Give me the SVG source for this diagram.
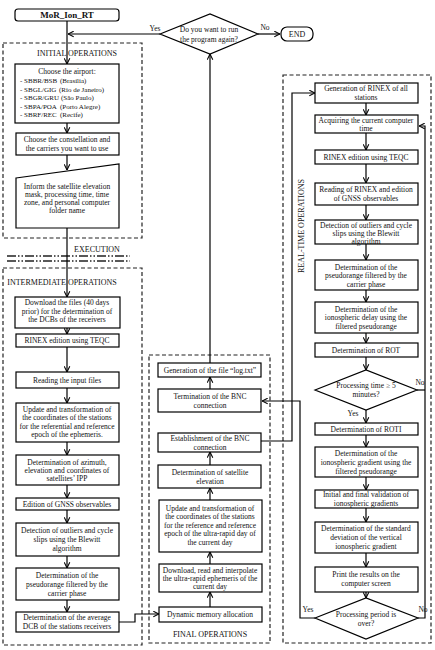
<svg xmlns="http://www.w3.org/2000/svg" width="435" height="650" viewBox="0 0 435 650">
<style>
.box{fill:#fff;stroke:#000;stroke-width:1.2}
.sec{fill:none;stroke:#222;stroke-width:1.2;stroke-dasharray:4 2.5}
.conn{fill:none;stroke:#000;stroke-width:1.2}
text{font-family:"Liberation Serif","Times New Roman",serif;font-size:7.5px;fill:#111;text-anchor:middle}
.l{text-anchor:start;font-size:7px}
.t{font-size:8px}
.b{font-weight:bold;font-size:9px}
</style>
<defs>
<marker id="ar" viewBox="0 0 8 8" refX="7.5" refY="4" markerWidth="7" markerHeight="7" markerUnits="userSpaceOnUse" orient="auto">
<path d="M1,0.8 L7.5,4 L1,7.2" fill="none" stroke="#000" stroke-width="1.2"/>
</marker>
</defs>
<rect width="435" height="650" fill="#fff"/>

<g id="sections">
<rect class="sec" x="3" y="43" width="139" height="195"/>
<rect class="sec" x="3" y="268" width="139" height="377"/>
<rect class="sec" x="149" y="355" width="121" height="288"/>
<rect class="sec" x="283" y="75" width="148" height="568"/>
<text class="t" x="77" y="56">INITIAL  OPERATIONS</text>
<text class="t" x="97" y="252">EXECUTION</text>
<line x1="7" y1="256" x2="130" y2="256" stroke="#222" stroke-width="1.3" stroke-dasharray="9 2 1.5 2 1.5 2"/>
<line x1="7" y1="261" x2="130" y2="261" stroke="#222" stroke-width="1.3" stroke-dasharray="9 2 1.5 2 1.5 2"/>
<text class="t" x="62" y="285">INTERMEDIATE  OPERATIONS</text>
<text class="t" x="210" y="637">FINAL OPERATIONS</text>
<text class="t" transform="translate(304,226) rotate(-90)">REAL-TIME OPERATIONS</text>
</g>

<g id="connectors">
<path class="conn" d="M67,21 V64" marker-end="url(#ar)"/>
<path class="conn" d="M160,34 H68" marker-end="url(#ar)"/>
<path class="conn" d="M258,34 H280" marker-end="url(#ar)"/>
<path class="conn" d="M67,123 V133" marker-end="url(#ar)"/>
<path class="conn" d="M67,155 V170" marker-end="url(#ar)"/>
<path class="conn" d="M67,228 V297" marker-end="url(#ar)"/>
<path class="conn" d="M67,328 V334" marker-end="url(#ar)"/>
<path class="conn" d="M67,347 V372" marker-end="url(#ar)"/>
<path class="conn" d="M67,388 V403" marker-end="url(#ar)"/>
<path class="conn" d="M67,442 V455" marker-end="url(#ar)"/>
<path class="conn" d="M67,485 V498" marker-end="url(#ar)"/>
<path class="conn" d="M67,510 V523" marker-end="url(#ar)"/>
<path class="conn" d="M67,556 V568" marker-end="url(#ar)"/>
<path class="conn" d="M67,600 V612" marker-end="url(#ar)"/>
<path class="conn" d="M119,622 H135 V614 H159" marker-end="url(#ar)"/>
<path class="conn" d="M210,607 V592" marker-end="url(#ar)"/>
<path class="conn" d="M210,564 V552" marker-end="url(#ar)"/>
<path class="conn" d="M210,500 V488" marker-end="url(#ar)"/>
<path class="conn" d="M210,465 V452" marker-end="url(#ar)"/>
<path class="conn" d="M210,389 V377" marker-end="url(#ar)"/>
<path class="conn" d="M210,363 V54" marker-end="url(#ar)"/>
<path class="conn" d="M261,441 H292 V93 H315" marker-end="url(#ar)"/>
<path class="conn" d="M315,618 H300 V401 H262" marker-end="url(#ar)"/>
<path class="conn" d="M418,618 H425 V126 H419" marker-end="url(#ar)"/>
<path class="conn" d="M417,390 H425"/>
<path class="conn" d="M366,103 V115" marker-end="url(#ar)"/>
<path class="conn" d="M366,133 V150" marker-end="url(#ar)"/>
<path class="conn" d="M366,164 V183" marker-end="url(#ar)"/>
<path class="conn" d="M366,205 V220" marker-end="url(#ar)"/>
<path class="conn" d="M366,244 V260" marker-end="url(#ar)"/>
<path class="conn" d="M366,290 V302" marker-end="url(#ar)"/>
<path class="conn" d="M366,333 V343" marker-end="url(#ar)"/>
<path class="conn" d="M366,357 V370" marker-end="url(#ar)"/>
<path class="conn" d="M366,410 V423" marker-end="url(#ar)"/>
<path class="conn" d="M366,435 V447" marker-end="url(#ar)"/>
<path class="conn" d="M366,477 V490" marker-end="url(#ar)"/>
<path class="conn" d="M366,508 V522" marker-end="url(#ar)"/>
<path class="conn" d="M366,553 V567" marker-end="url(#ar)"/>
<path class="conn" d="M366,592 V598" marker-end="url(#ar)"/>
<text x="155" y="31">Yes</text>
<text x="265" y="30">No</text>
<text x="420" y="385">No</text>
<text x="353" y="416">Yes</text>
<text x="308" y="612">Yes</text>
<text x="423" y="612">No</text>
</g>

<g id="start">
<rect class="box" x="15" y="9" width="104" height="12" rx="3"/>
<text class="b" x="67" y="18.2">MoR_Ion_RT</text>
</g>
<g id="again">
<polygon class="box" points="160,34 210,14 258,34 210,54"/>
<text x="209" y="32">Do you want to run</text>
<text x="209" y="42">the program again?</text>
</g>
<g id="end">
<rect class="box" x="281" y="27" width="32" height="14" rx="6"/>
<text class="t" x="297" y="37">END</text>
</g>

<g id="airport">
<rect class="box" x="15" y="64" width="104" height="59"/>
<text x="67" y="74">Choose the airport:</text>
<text class="l" x="20" y="83">- SBBR/BSB<tspan x="60">(Brasília)</tspan></text>
<text class="l" x="20" y="91.5">- SBGL/GIG<tspan x="59">(Rio de Janeiro)</tspan></text>
<text class="l" x="20" y="100">- SBGR/GRU<tspan x="61">(São Paulo)</tspan></text>
<text class="l" x="20" y="108.5">- SBPA/POA<tspan x="60">(Porto Alegre)</tspan></text>
<text class="l" x="20" y="117">- SBRF/REC<tspan x="60">(Recife)</tspan></text>
</g>
<g id="constellation">
<rect class="box" x="16" y="133" width="103" height="22"/>
<text x="67" y="141.5">Choose the constellation  and</text>
<text x="67" y="150.5">the carriers you want to use</text>
</g>
<g id="inform">
<polygon class="box" points="16,178 119,164 119,228 16,228"/>
<text x="67" y="188.5">Inform the satellite  elevation</text>
<text x="67" y="196.5">mask, processing time, time</text>
<text x="67" y="204.5">zone, and personal computer</text>
<text x="67" y="212.5">folder name</text>
</g>

<g id="download">
<rect class="box" x="15" y="297" width="105" height="31"/>
<text x="67" y="304.5">Download the files (40 days</text>
<text x="67" y="313.5">prior) for the determination  of</text>
<text x="67" y="321.5">the DCBs  of the receivers</text>
</g>
<g id="rinex1">
<rect class="box" x="16" y="334" width="103" height="13"/>
<text x="67" y="343">RINEX edition using TEQC</text>
</g>
<g id="reading1">
<rect class="box" x="16" y="372" width="103" height="16"/>
<text x="67" y="382.5">Reading  the input files</text>
</g>
<g id="update1">
<rect class="box" x="16" y="403" width="103" height="39"/>
<text x="67" y="411.5">Update and transformation of</text>
<text x="67" y="420">the coordinates of the stations</text>
<text x="67" y="428.5">for the referential and reference</text>
<text x="67" y="437">epoch of the ephemeris.</text>
</g>
<g id="azimuth">
<rect class="box" x="16" y="455" width="103" height="30"/>
<text x="67" y="464.5">Determination  of azimuth,</text>
<text x="67" y="472.5">elevation and coordinates of</text>
<text x="67" y="480.5">satellites’  IPP</text>
</g>
<g id="edition1">
<rect class="box" x="16" y="498" width="103" height="12"/>
<text x="67" y="506.5">Edition of GNSS observables</text>
</g>
<g id="detect1">
<rect class="box" x="16" y="523" width="103" height="33"/>
<text x="67" y="532.5">Detection of outliers and cycle</text>
<text x="67" y="541.5">slips using the Blewitt</text>
<text x="67" y="550.5">algorithm</text>
</g>
<g id="pseudo1">
<rect class="box" x="16" y="568" width="103" height="32"/>
<text x="67" y="577.5">Determination  of the</text>
<text x="67" y="586.5">pseudorange filtered by the</text>
<text x="67" y="595.5">carrier phase</text>
</g>
<g id="dcb">
<rect class="box" x="16" y="612" width="103" height="20"/>
<text x="67" y="619.5">Determination  of the average</text>
<text x="67" y="629">DCB of the stations receivers</text>
</g>

<g id="log">
<rect class="box" x="158" y="363" width="103" height="14"/>
<text x="210" y="372.5">Generation  of the file “log.txt”</text>
</g>
<g id="termination">
<rect class="box" x="158" y="389" width="103" height="23"/>
<text x="210" y="398.5">Termination  of the BNC</text>
<text x="210" y="407.5">connection</text>
</g>
<g id="establish">
<rect class="box" x="158" y="433" width="103" height="19"/>
<text x="210" y="440.5">Establishment  of the BNC</text>
<text x="210" y="449.5">connection</text>
</g>
<g id="satelev">
<rect class="box" x="158" y="465" width="103" height="23"/>
<text x="210" y="474.5">Determination  of satellite</text>
<text x="210" y="483.5">elevation</text>
</g>
<g id="update2">
<rect class="box" x="159" y="500" width="103" height="52"/>
<text x="210" y="510.5">Update and transformation of</text>
<text x="210" y="519">the coordinates of the stations</text>
<text x="210" y="527.5">for the reference and reference</text>
<text x="210" y="536">epoch of the ultra-rapid day of</text>
<text x="210" y="544.5">the current day</text>
</g>
<g id="ephem">
<rect class="box" x="159" y="564" width="103" height="28"/>
<text x="210" y="572.5">Download, read and interpolate</text>
<text x="210" y="580.5">the ultra-rapid ephemeris of the</text>
<text x="210" y="588.5">current day</text>
</g>
<g id="memory">
<rect class="box" x="159" y="607" width="103" height="15"/>
<text x="210" y="616.5">Dynamic memory allocation</text>
</g>

<g id="genrinex">
<rect class="box" x="315" y="83" width="103" height="20"/>
<text x="366" y="90.5">Generation  of RINEX  of all</text>
<text x="366" y="99.5">stations</text>
</g>
<g id="acquire">
<rect class="box" x="315" y="115" width="103" height="18"/>
<text x="366" y="122.5">Acquiring  the current computer</text>
<text x="366" y="130.5">time</text>
</g>
<g id="rinex2">
<rect class="box" x="315" y="150" width="103" height="14"/>
<text x="366" y="159.5">RINEX edition using TEQC</text>
</g>
<g id="reading2">
<rect class="box" x="315" y="183" width="103" height="22"/>
<text x="366" y="192">Reading  of RINEX and edition</text>
<text x="366" y="200.5">of GNSS observables</text>
</g>
<g id="detect2">
<rect class="box" x="315" y="220" width="103" height="24"/>
<text x="366" y="227.5">Detection of outliers and cycle</text>
<text x="366" y="235.5">slips using the Blewitt</text>
<text x="366" y="243.5">algorithm</text>
</g>
<g id="pseudo2">
<rect class="box" x="315" y="260" width="103" height="30"/>
<text x="366" y="269.5">Determination  of the</text>
<text x="366" y="277.5">pseudorange filtered by the</text>
<text x="366" y="286.5">carrier phase</text>
</g>
<g id="ionodelay">
<rect class="box" x="315" y="302" width="103" height="31"/>
<text x="366" y="311.5">Determination  of the</text>
<text x="366" y="320">ionospheric delay using the</text>
<text x="366" y="328.5">filtered pseudorange</text>
</g>
<g id="rot">
<rect class="box" x="315" y="343" width="103" height="14"/>
<text x="366" y="352.5">Determination  of ROT</text>
</g>
<g id="time5">
<polygon class="box" points="315,390 366,370 417,390 366,410"/>
<text x="366" y="387.5">Processing time ≥ 5</text>
<text x="366" y="396.5">minutes?</text>
</g>
<g id="roti">
<rect class="box" x="315" y="423" width="103" height="12"/>
<text x="366" y="431.5">Determination  of ROTI</text>
</g>
<g id="gradient">
<rect class="box" x="315" y="447" width="103" height="30"/>
<text x="366" y="455.5">Determination  of the</text>
<text x="366" y="464.5">ionospheric  gradient using the</text>
<text x="366" y="473.5">filtered pseudorange</text>
</g>
<g id="validation">
<rect class="box" x="315" y="490" width="103" height="18"/>
<text x="366" y="496.5">Initial  and final validation  of</text>
<text x="366" y="505.5">ionospheric gradients</text>
</g>
<g id="stddev">
<rect class="box" x="315" y="522" width="103" height="31"/>
<text x="366" y="530.5">Determination  of the standard</text>
<text x="366" y="539.5">deviation  of the vertical</text>
<text x="366" y="548.5">ionospheric  gradient</text>
</g>
<g id="print">
<rect class="box" x="315" y="567" width="103" height="25"/>
<text x="366" y="576.5">Print the results on the</text>
<text x="366" y="585.5">computer screen</text>
</g>
<g id="period">
<polygon class="box" points="315,618 366,598 418,618 366,639"/>
<text x="366" y="617">Processing period is</text>
<text x="366" y="626">over?</text>
</g>
</svg>
